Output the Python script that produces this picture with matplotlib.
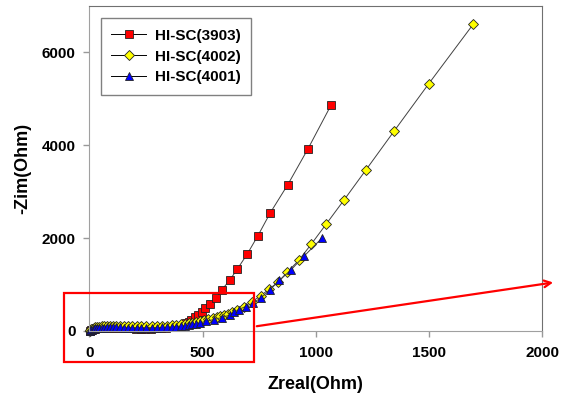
import matplotlib
matplotlib.use("Agg")
import matplotlib.pyplot as plt
from matplotlib.patches import Rectangle, FancyArrowPatch

# HI-SC(3903)
x_3903 = [3, 6, 10, 16, 23, 31, 40, 50, 61, 73, 86, 100, 115, 131, 148, 166, 185, 205,
          226, 248, 271, 294, 317, 339, 360, 379, 397, 413, 428, 440, 451, 466, 482, 497,
          512, 531, 561, 586, 619, 654, 697, 744, 799, 876, 965, 1067]
y_3903 = [0, 12, 24, 36, 47, 56, 63, 68, 71, 72, 72, 71, 69, 66, 63, 59, 55, 52,
          50, 49, 50, 53, 58, 66, 77, 92, 110, 135, 165, 200, 240, 295, 353, 418,
          489, 576, 720, 892, 1087, 1337, 1654, 2048, 2544, 3148, 3918, 4860]

# HI-SC(4002)
x_4002 = [2, 5, 9, 14, 20, 27, 35, 44, 54, 65, 77, 90, 104, 119, 135, 152, 170, 189,
          209, 230, 252, 275, 298, 321, 343, 364, 384, 403, 421, 438, 455, 472, 490, 508,
          526, 545, 562, 579, 596, 613, 631, 650, 682, 719, 756, 793, 835, 875, 925, 981,
          1045, 1126, 1222, 1345, 1499, 1695]
y_4002 = [0, 18, 36, 52, 66, 78, 88, 96, 102, 106, 109, 111, 112, 112, 111, 110, 108, 106,
          104, 103, 103, 104, 106, 110, 116, 124, 131, 140, 152, 166, 181, 197, 215, 236,
          256, 276, 296, 317, 345, 375, 408, 446, 526, 634, 755, 899, 1057, 1272, 1521, 1876,
          2296, 2829, 3472, 4299, 5326, 6605]

# HI-SC(4001)
x_4001 = [2, 5, 9, 14, 20, 27, 35, 44, 54, 65, 77, 90, 104, 119, 135, 152, 170, 189,
          209, 230, 252, 275, 298, 321, 343, 364, 384, 403, 421, 438, 455, 472, 490, 515,
          549, 584, 619, 639, 659, 690, 724, 759, 797, 839, 892, 948, 1027]
y_4001 = [0, 14, 28, 40, 50, 58, 64, 69, 72, 74, 75, 76, 76, 76, 75, 74, 73, 72,
          71, 71, 71, 72, 74, 77, 81, 87, 94, 103, 114, 127, 142, 158, 177, 209,
          245, 289, 339, 398, 461, 526, 604, 720, 884, 1087, 1323, 1610, 1999]

plt.rcParams['font.family'] = ['Liberation Sans', 'DejaVu Sans']
plt.rcParams['font.weight'] = 'bold'

fig = plt.figure(figsize=(5.69, 3.94), dpi=100)
ax = fig.add_axes([0.157, 0.16, 0.796, 0.825])

line_kw = dict(color='#404040', linewidth=0.7, markeredgecolor='#222222',
               markeredgewidth=0.6, clip_on=False)
ax.plot(x_3903, y_3903, marker='s', markersize=5.4, markerfacecolor='#ff0000',
        label='HI-SC(3903)', **line_kw)
ax.plot(x_4002, y_4002, marker='D', markersize=5.4, markerfacecolor='#ffff00',
        label='HI-SC(4002)', **line_kw)
ax.plot(x_4001, y_4001, marker='^', markersize=6.2, markerfacecolor='#0000ff',
        label='HI-SC(4001)', **line_kw)

ax.set_xlim(0, 2000)
ax.set_ylim(0, 7000)
ax.set_xticks([0, 500, 1000, 1500, 2000])
ax.set_yticks([0, 2000, 4000, 6000])
ax.tick_params(direction='out', length=4, width=1, color='#999999', labelsize=11)
ax.tick_params(axis='x', pad=7)
ax.tick_params(axis='y', pad=6)
for lab in ax.get_xticklabels() + ax.get_yticklabels():
    lab.set_fontweight('bold')
for side in ['left', 'bottom']:
    ax.spines[side].set_color('#a0a0a0')
for side in ['top', 'right']:
    ax.spines[side].set_color('#707070')

ax.set_xlabel('Zreal(Ohm)', fontsize=13, fontweight='bold', labelpad=11)
ax.set_ylabel('-Zim(Ohm)', fontsize=13, fontweight='bold', labelpad=7)

leg = ax.legend(loc='upper left', bbox_to_anchor=(0.025, 0.963), borderaxespad=0,
                fancybox=False, edgecolor='#808080', framealpha=1,
                prop={'weight': 'bold', 'size': 11}, handlelength=2.3,
                handletextpad=0.55, labelspacing=0.45, borderpad=0.7)
leg.get_frame().set_linewidth(1)
for h in leg.get_lines():
    h.set_color('black')

# red highlight box and arrow
fig.patches.append(Rectangle((0.1125, 0.081), 0.334, 0.176, transform=fig.transFigure,
                             fill=False, edgecolor='#ff0000', linewidth=1.6))
fig.patches.append(FancyArrowPatch((0.4464, 0.171), (0.977, 0.284),
                                   transform=fig.transFigure, arrowstyle='->',
                                   mutation_scale=12, color='#ff0000', linewidth=1.6))

fig.savefig('out.png', dpi=100)
